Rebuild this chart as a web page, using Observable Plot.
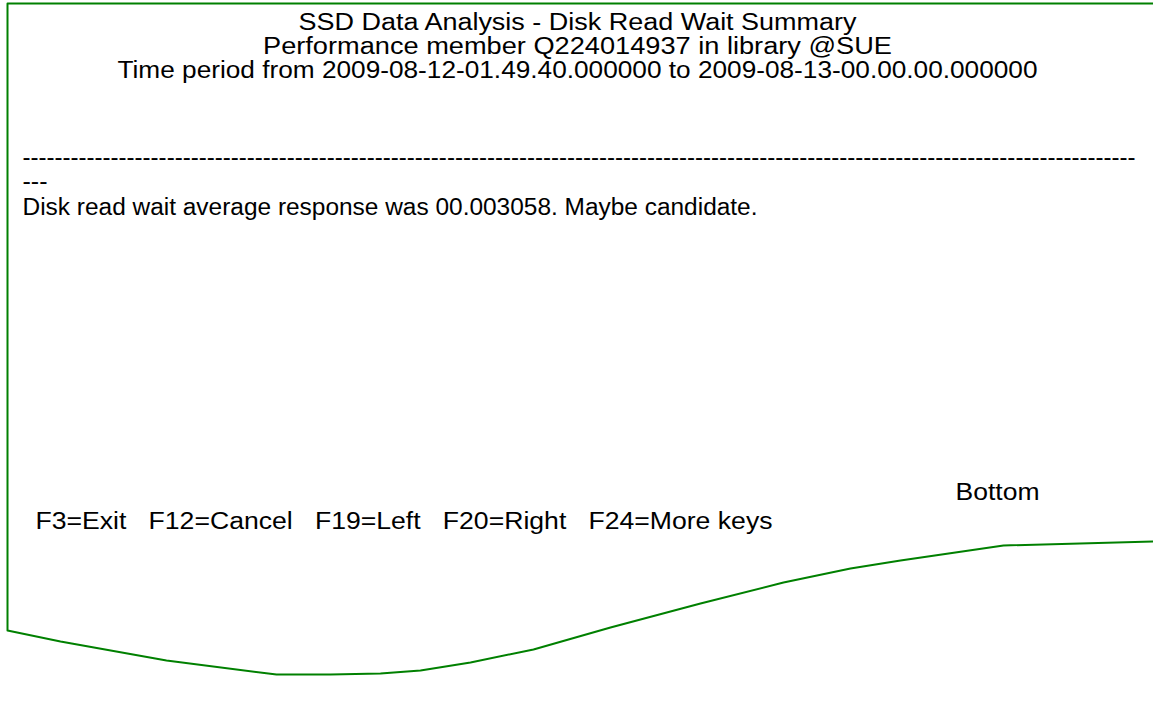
<!DOCTYPE html>
<html>
<head>
<meta charset="utf-8">
<script src="https://cdn.jsdelivr.net/npm/d3@7"></script>
<script src="https://cdn.jsdelivr.net/npm/@observablehq/plot@0.6"></script>
<style>
  html, body { margin: 0; padding: 0; background: #fff; }
  #chart svg { display: block; }
</style>
</head>
<body>
<div id="chart"></div>
<script>
// Document-shape outline (top edge, left edge, wavy bottom edge)
const outlineX = [1153, 7, 7, 60, 166, 276, 330, 380, 420, 470, 533, 610, 700, 783, 850, 900, 1003, 1153];
const outlineY = [3, 3, 630, 641, 660, 674, 674, 673, 670, 662, 649, 627, 603, 582, 568, 560, 545, 541];

// Header lines (centered)
const titleLines = [
  "SSD Data Analysis - Disk Read Wait Summary",
  "Performance member Q224014937 in library @SUE",
  "Time period from 2009-08-12-01.49.40.000000 to 2009-08-13-00.00.00.000000"
];
// Body lines (left aligned)
const bodyLines = [
  "-------------------------------------------------------------------------------------------------------------------------------------------",
  "---",
  "Disk read wait average response was 00.003058. Maybe candidate.",
  "F3=Exit   F12=Cancel   F19=Left   F20=Right   F24=More keys"
];
const rightLines = ["Bottom"];

// layout (positions and rendered widths of each text line)
const titleX = 577, titleY = [22, 46, 70], titleW = [558, 629, 920];
const bodyX = [22, 22, 22, 35], bodyY = [157, 181, 207, 521], bodyW = [1113, 25, 735, 737];
const rightX = [997], rightY = [492], rightW = [84];

const W = 1153, H = 725;
const outline = outlineX.map((x, i) => ({x, y: outlineY[i]}));
const titles = titleLines.map((t, i) => ({t, x: titleX, y: titleY[i]}));
const body = bodyLines.map((t, i) => ({t, x: bodyX[i], y: bodyY[i]}));
const right = rightLines.map((t, i) => ({t, x: rightX[i], y: rightY[i]}));

const font = "'Liberation Sans', Arial, Helvetica, sans-serif";
const fs = 23;

const chart = Plot.plot({
  width: W, height: H,
  margin: 0,
  style: {background: "#fff", fontFamily: font},
  x: {domain: [0, W], axis: null},
  y: {domain: [H, 0], axis: null},
  marks: [
    Plot.line(outline, {x: "x", y: "y", stroke: "#008000", strokeWidth: 2, curve: "linear"}),
    Plot.text(titles, {x: "x", y: "y", text: "t", textAnchor: "middle", lineAnchor: "middle", fontSize: fs, fill: "#000", fontFamily: font}),
    Plot.text(body, {x: "x", y: "y", text: "t", textAnchor: "start", lineAnchor: "middle", fontSize: fs, fill: "#000", fontFamily: font}),
    Plot.text(right, {x: "x", y: "y", text: "t", textAnchor: "middle", lineAnchor: "middle", fontSize: fs, fill: "#000", fontFamily: font})
  ]
});

// fit each text line to the width it has in the reference
const widths = [...titleW, ...bodyW, ...rightW];
d3.select(chart).selectAll("g[aria-label='text'] text").each(function(d, i) {
  if (widths[i] != null) {
    this.setAttribute("textLength", widths[i]);
    this.setAttribute("lengthAdjust", "spacingAndGlyphs");
  }
});
document.getElementById("chart").appendChild(chart);
</script>
</body>
</html>
